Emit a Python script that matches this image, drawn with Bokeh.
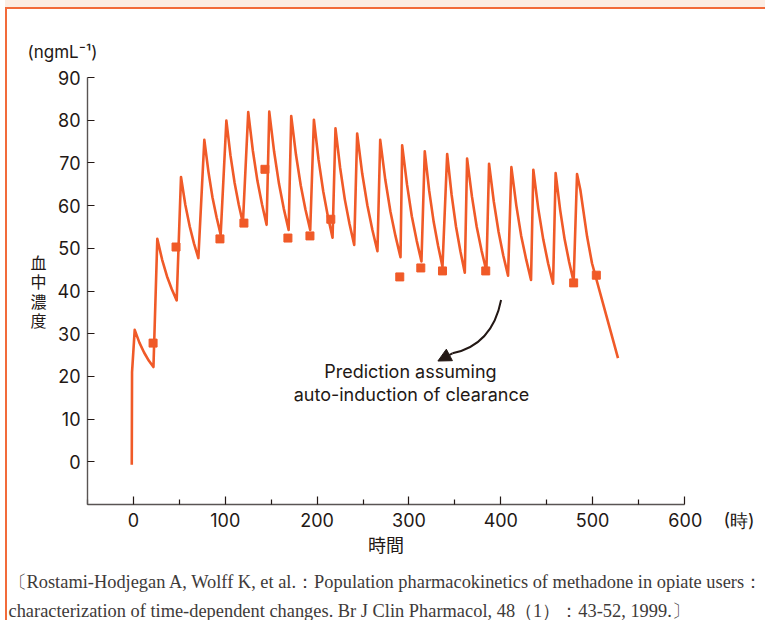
from bokeh.plotting import figure
from bokeh.models import Range1d, FixedTicker, Label, Arrow, NormalHead, Title
from bokeh.embed import file_html
from bokeh.resources import INLINE

# ---- data ----
start_t = [-1.8, -1.5]
start_c = [-0.7, 21.0]
peak_t = [1.4, 26.0, 51.8, 77.2, 101.2, 125.0, 147.9, 171.8, 196.5, 220.0, 243.6,
          268.7, 292.6, 317.2, 341.6, 363.3, 387.2, 411.5, 435.4, 459.7, 483.0]
peak_c = [30.9, 52.2, 66.7, 75.4, 79.9, 81.9, 82.0, 81.0, 80.1, 78.1, 76.9,
          75.4, 74.1, 72.7, 72.1, 71.0, 69.8, 69.0, 68.4, 67.6, 67.4]
trough_t = [21.8, 47.1, 70.7, 95.0, 119.2, 145.0, 169.0, 192.5, 216.8, 240.4,
            265.7, 290.8, 313.6, 336.5, 360.8, 384.3, 407.9, 432.9, 456.9, 479.3]
trough_c = [22.2, 37.8, 47.7, 53.2, 55.9, 55.5, 54.3, 54.3, 52.5, 50.8,
            49.3, 47.9, 46.9, 45.7, 44.3, 44.7, 43.6, 42.6, 41.7, 42.2]
decay_t = [[6.5, 11.6, 16.7], [31.3, 36.6, 41.8], [56.5, 61.3, 66.0], [81.7, 86.1, 90.6],
           [105.7, 110.2, 114.7], [130.0, 135.0, 140.0], [153.2, 158.5, 163.7],
           [177.0, 182.2, 187.3], [201.6, 206.7, 211.7], [225.1, 230.2, 235.3],
           [249.1, 254.7, 260.2], [274.2, 279.8, 285.3], [297.9, 303.1, 308.4],
           [322.0, 326.9, 331.7], [346.4, 351.2, 356.0], [368.6, 373.8, 379.1],
           [392.4, 397.6, 402.7], [416.9, 422.2, 427.6], [440.8, 446.2, 451.5],
           [464.6, 469.5, 474.4]]
decay_c = [[27.9, 25.6, 23.7], [47.3, 43.4, 40.4], [60.2, 55.1, 51.1], [67.9, 61.9, 57.2],
           [71.7, 65.3, 60.2], [72.9, 65.8, 60.3], [72.6, 65.1, 59.3],
           [71.9, 64.7, 59.1], [70.7, 63.3, 57.5], [68.8, 61.4, 55.7],
           [67.5, 60.1, 54.3], [66.1, 58.6, 52.9], [64.9, 57.5, 51.8],
           [63.5, 56.2, 50.6], [62.6, 55.1, 49.3], [62.1, 55.0, 49.4],
           [60.9, 53.8, 48.3], [60.0, 52.9, 47.4], [59.3, 52.1, 46.5],
           [59.0, 52.1, 46.8]]
tail_t = [486.6, 493.9, 499.3, 513.4, 527.6]
tail_c = [63.7, 52.8, 46.5, 35.4, 24.3]

obs_t = [21.4, 46.4, 94.2, 120.3, 143.2, 168.2, 192.2, 214.9, 290.0, 312.9, 336.5, 383.6, 479.3, 504.0]
obs_c = [27.8, 50.3, 52.2, 55.9, 68.5, 52.4, 52.9, 56.8, 43.3, 45.4, 44.7, 44.7, 41.9, 43.7]

x_ticks = [0, 100, 200, 300, 400, 500, 600]
x_minor = [-50, 50, 150, 250, 350, 450, 550]
y_ticks = [0, 10, 20, 30, 40, 50, 60, 70, 80, 90]

x_title = "時間"
x_unit = "(時)"
y_title = "血中濃度"
y_unit = "(ngmL⁻¹)"
note_lines = ["Prediction assuming", "auto-induction of clearance"]
cite_lines = ["〔Rostami-Hodjegan A, Wolff K, et al.：Population pharmacokinetics of methadone in opiate users：",
              "characterization of time-dependent changes. Br J Clin Pharmacol, 48（1）：43-52, 1999.〕"]

# assemble curve
curve_t = list(start_t)
curve_c = list(start_c)
for i in range(len(trough_t)):
    curve_t += [peak_t[i]] + decay_t[i] + [trough_t[i]]
    curve_c += [peak_c[i]] + decay_c[i] + [trough_c[i]]
curve_t += [peak_t[-1]] + tail_t
curve_c += [peak_c[-1]] + tail_c

ORANGE = "#f05a28"
INK = "#231815"
AXIS = "#595453"
SANS = "Inter"
JP = "Noto Sans CJK JP"
SERIF = "Liberation Serif"

p = figure(width=760, height=613, output_backend="svg", toolbar_location=None,
           x_range=Range1d(-50, 600), y_range=Range1d(-10, 90),
           min_border_left=80, min_border_right=83, min_border_top=68, min_border_bottom=118)
p.styles = {"border-left": "2px solid #f26b3a", "border-top": "2px solid #f26b3a",
            "margin-left": "5px", "margin-top": "7px",
            "box-shadow": "0 -7px 0 0 #fcede3"}
p.outline_line_color = None
p.grid.visible = False
p.background_fill_color = "white"
p.border_fill_color = "white"

p.line(curve_t, curve_c, line_color=ORANGE, line_width=2.6, line_join="round")
p.scatter(obs_t, obs_c, marker="square", size=8, fill_color=ORANGE, line_color=ORANGE)

# axes
xa = p.xaxis[0]
xa.ticker = FixedTicker(ticks=x_ticks, minor_ticks=x_minor)
xa.major_label_overrides = {600: "\u2003\u2003\u2003600\u2003\u2009" + x_unit}
xa.major_tick_in = 8
xa.major_tick_out = 0
xa.minor_tick_in = 5
xa.minor_tick_out = 0
xa.axis_line_color = AXIS
xa.axis_line_width = 1.4
xa.major_tick_line_color = INK
xa.minor_tick_line_color = INK
xa.major_tick_line_width = 1.2
xa.minor_tick_line_width = 1.2
xa.major_label_text_font = SANS
xa.major_label_text_font_size = "18px"
xa.major_label_text_color = INK
xa.major_label_standoff = 5
xa.axis_label = x_title
xa.axis_label_text_font = JP
xa.axis_label_text_font_size = "18px"
xa.axis_label_text_font_style = "normal"
xa.axis_label_text_color = INK
xa.axis_label_standoff = -3

ya = p.yaxis[0]
ya.ticker = FixedTicker(ticks=y_ticks, minor_ticks=[])
ya.major_tick_in = 7
ya.major_tick_out = 0
ya.axis_line_color = AXIS
ya.axis_line_width = 1.4
ya.major_tick_line_color = INK
ya.major_tick_line_width = 1.2
ya.major_label_text_font = SANS
ya.major_label_text_font_size = "18px"
ya.major_label_text_color = INK
ya.major_label_standoff = 7
ya.axis_label = "\n".join(y_title)
ya.axis_label_orientation = "horizontal"
ya.axis_label_text_font = JP
ya.axis_label_text_font_size = "16px"
ya.axis_label_text_line_height = 0.8
ya.axis_label_text_font_style = "normal"
ya.axis_label_text_color = INK
ya.axis_label_standoff = 8

# unit above the y axis
p.add_layout(Title(text=y_unit, align="left", offset=-60, standoff=32, text_font=SANS,
                   text_font_size="17px", text_font_style="normal", text_color=INK), "above")

# citation below
for k, line in enumerate(cite_lines):
    p.add_layout(Title(text=line, align="left", offset=-79, standoff=20 if k == 0 else -5,
                       text_font=SERIF, text_font_size="18.4px", text_font_style="normal",
                       text_color="#3e3a39"), "below")

# annotation text (inside the frame)
note_x = [301.6, 302.7]
note_y = [21.1, 15.7]
for tx, ty, line in zip(note_x, note_y, note_lines):
    p.add_layout(Label(x=tx, y=ty, text=line, text_font=SANS, text_font_size="18px",
                       text_color=INK, text_align="center", text_baseline="middle"))

# curved arrow
arr_x0, arr_y0 = 400.3, 37.9
arr_cx, arr_cy = 390.8, 27.4
arr_x1, arr_y1 = 347.3, 25.4
tip_x, tip_y = 331.5, 23.6
p.quadratic(x0=[arr_x0], y0=[arr_y0], x1=[arr_x1], y1=[arr_y1], cx=[arr_cx], cy=[arr_cy],
            line_color=INK, line_width=2)
p.add_layout(Arrow(x_start=arr_x1, y_start=arr_y1, x_end=tip_x, y_end=tip_y, line_color=INK,
                   line_width=2, end=NormalHead(size=13, fill_color=INK, line_color=INK)))

open("out.html", "w").write(file_html(p, INLINE))
